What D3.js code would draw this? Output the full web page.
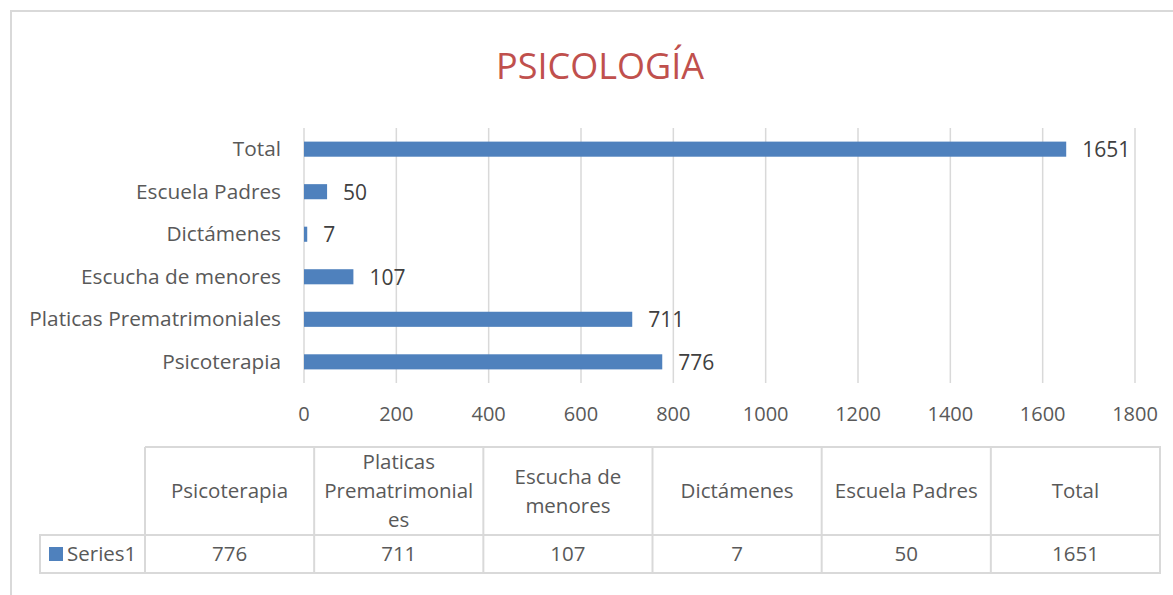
<!DOCTYPE html>
<html>
<head>
<meta charset="utf-8">
<script src="https://cdn.jsdelivr.net/npm/d3@7"></script>
<style>
  body { margin: 0; background: #fff; }
  text { font-family: "Open Sans", "Noto Sans", sans-serif; }
</style>
</head>
<body>
<div id="chart"></div>
<script>
// data, in table order (bottom bar first)
var categories = ["Psicoterapia", "Platicas Prematrimoniales", "Escucha de menores", "Dictámenes", "Escuela Padres", "Total"];
var values = [776, 711, 107, 7, 50, 1651];
var headerLines = [["Psicoterapia"], ["Platicas", "Prematrimonial", "es"], ["Escucha de", "menores"], ["Dictámenes"], ["Escuela Padres"], ["Total"]];
var xTicks = [0, 200, 400, 600, 800, 1000, 1200, 1400, 1600, 1800];
var seriesName = "Series1";
var title = "PSICOLOGÍA";

var width = 1173, height = 595;
var barColor = "#4f81bd";
var gridColor = "#d9d9d9";

var svg = d3.select("#chart").append("svg").attr("width", width).attr("height", height);

// outer chart frame (cropped on the right and bottom)
svg.append("path")
    .attr("d", "M11,600 L11,11 L1180,11")
    .attr("fill", "none")
    .attr("stroke", gridColor)
    .attr("stroke-width", 2);

svg.append("text")
    .attr("x", 600).attr("y", 79)
    .attr("text-anchor", "middle")
    .attr("fill", "#c0504d")
    .attr("font-size", "36px")
    .text(title);

var x = d3.scaleLinear().domain([0, 1800]).range([304, 1135]);
var y = d3.scaleBand().domain(categories.slice().reverse()).range([128, 383]).paddingInner(0.645).paddingOuter(0.32);

// gridlines
svg.append("g").selectAll("line").data(xTicks).enter().append("line")
    .attr("x1", d => x(d)).attr("x2", d => x(d))
    .attr("y1", 128).attr("y2", 383)
    .attr("stroke", gridColor).attr("stroke-width", 1.5);

// tick labels
svg.append("g").selectAll("text").data(xTicks).enter().append("text")
    .attr("x", d => x(d)).attr("y", 421)
    .attr("text-anchor", "middle")
    .attr("fill", "#595959").attr("font-size", "20px")
    .text(d => d);

// category labels
svg.append("g").selectAll("text").data(categories).enter().append("text")
    .attr("x", 281).attr("y", d => y(d) + y.bandwidth() / 2 + 7)
    .attr("text-anchor", "end")
    .attr("fill", "#595959").attr("font-size", "20.8px")
    .text(d => d);

var rows = categories.map((c, i) => ({cat: c, val: values[i]}));

svg.append("g").selectAll("rect").data(rows).enter().append("rect")
    .attr("x", x(0)).attr("y", d => y(d.cat))
    .attr("width", d => x(d.val) - x(0)).attr("height", y.bandwidth())
    .attr("fill", barColor);

svg.append("g").selectAll("text").data(rows).enter().append("text")
    .attr("x", d => x(d.val) + 16).attr("y", d => y(d.cat) + y.bandwidth() / 2 + 8)
    .attr("fill", "#404040").attr("font-size", "21px")
    .text(d => d.val);

// data table
var col = d3.scaleBand().domain(categories).range([145, 1160]);
var tTop = 447, tMid = 535, tBot = 573, legLeft = 40;
var table = svg.append("g").attr("stroke", gridColor).attr("stroke-width", 2).attr("fill", "none");
table.append("path").attr("d",
    "M" + col.range()[0] + "," + tTop + " H" + col.range()[1] + " V" + tBot + " H" + legLeft + " V" + tMid + " H" + col.range()[1]);
table.selectAll("line").data(categories).enter().append("line")
    .attr("x1", d => col(d)).attr("x2", d => col(d))
    .attr("y1", tTop).attr("y2", tBot);

var heads = svg.append("g").selectAll("text").data(headerLines).enter().append("text")
    .attr("text-anchor", "middle")
    .attr("fill", "#595959").attr("font-size", "20.5px");
heads.each(function(lines, i) {
    var cx = col(categories[i]) + col.bandwidth() / 2;
    var lh = 29;
    var cy = (tTop + tMid) / 2 - (lines.length - 1) * lh / 2;
    d3.select(this).selectAll("tspan").data(lines).enter().append("tspan")
        .attr("x", cx).attr("y", (l, j) => cy + j * lh + 7)
        .text(l => l);
});

svg.append("g").selectAll("text").data(values).enter().append("text")
    .attr("x", (d, i) => col(categories[i]) + col.bandwidth() / 2)
    .attr("y", (tMid + tBot) / 2 + 7)
    .attr("text-anchor", "middle")
    .attr("fill", "#595959").attr("font-size", "20.5px")
    .text(d => d);

svg.append("rect").attr("x", 49).attr("y", 547).attr("width", 14).attr("height", 14).attr("fill", barColor);
svg.append("text").attr("x", 67).attr("y", (tMid + tBot) / 2 + 7)
    .attr("fill", "#595959").attr("font-size", "20.5px")
    .text(seriesName);
</script>
</body>
</html>
